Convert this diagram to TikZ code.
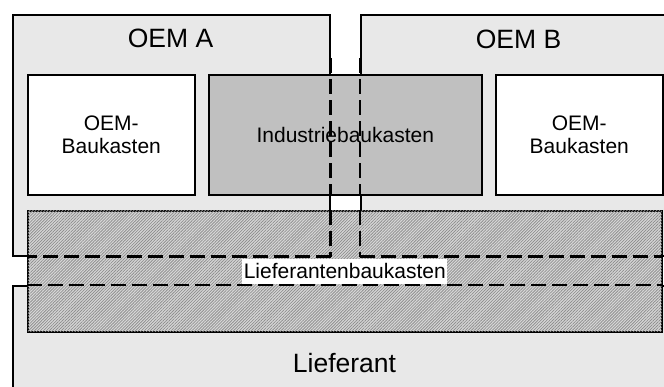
\documentclass[tikz,border=0pt]{standalone}
\usepackage{fontspec}
\setmainfont{Liberation Sans}
\usetikzlibrary{patterns.meta}
\definecolor{oemgray}{HTML}{E8E8E8}
\definecolor{kitgray}{HTML}{C0C0C0}
\definecolor{hatchgray}{HTML}{D8D8D8}
\definecolor{hatchline}{HTML}{909090}

\begin{document}
\begin{tikzpicture}[x=1pt,y=-1pt,
        box/.style={draw,rectangle,line width=1.6pt,inner sep=0pt,anchor=north west},
        oem/.style={box,fill=oemgray},
        kit/.style={box,fill=white,align=center,font=\fontsize{21}{23}\selectfont},
        hatched/.style={box,fill=hatchgray,
            postaction={pattern={Lines[angle=45,distance=2.1pt,line width=0.8pt]},
                        pattern color=hatchline}},
        title/.style={font=\fontsize{26.5}{30}\selectfont},
        hidden/.style={line width=2.6pt,dash pattern=on 15pt off 6pt}]

    \path[use as bounding box,clip] (0,0) rectangle (664,386);

    % Firmen
    \node[oem,minimum width=317pt,minimum height=241pt] (oemA) at (12,14) {};
    \node[oem,minimum width=317pt,minimum height=241pt] (oemB) at (360,14) {};
    \node[oem,minimum width=665pt,minimum height=130pt] (lief) at (12,285) {};
    \node[title] (titleA) at (170.5,38.5) {OEM A};
    \node[title] (titleB) at (518.5,39) {OEM B};
    \node[title] (titleL) at (344.5,363) {Lieferant};

    % Baukaesten
    \node[kit,minimum width=167pt,minimum height=120pt] (kitA) at (27,74) {OEM-\\Baukasten};
    \node[kit,minimum width=167pt,minimum height=120pt] (kitB) at (495,74) {OEM-\\Baukasten};
    \node[kit,fill=kitgray,minimum width=273pt,minimum height=120pt] (kitI) at (208,74) {Industriebaukasten};
    \node[hatched,minimum width=634pt,minimum height=121pt] (hatch) at (27,210) {};
    \node[fill=white,inner xsep=1.5pt,inner ysep=5pt,font=\fontsize{21}{23}\selectfont]
        (kitL) at (hatch.center) {Lieferantenbaukasten};

    % verdeckte Kanten
    \draw[hidden] (kitI.north -| oemA.east) ++(0,-16) -- (kitI.south -| oemA.east);
    \draw[hidden] (kitI.north -| oemB.west) ++(0,-16) -- (kitI.south -| oemB.west);
    \draw[hidden] (hatch.north -| oemA.east) -- (oemA.south east);
    \draw[hidden] (hatch.north -| oemB.west) -- (oemB.south west);
    \draw[hidden] (oemA.south east) -- (oemA.south east -| hatch.west);
    \draw[hidden] (oemB.south west) -- (oemB.south west -| hatch.east);
    \draw[hidden] (hatch.west |- lief.north) -- (hatch.east |- lief.north);
\end{tikzpicture}
\end{document}
